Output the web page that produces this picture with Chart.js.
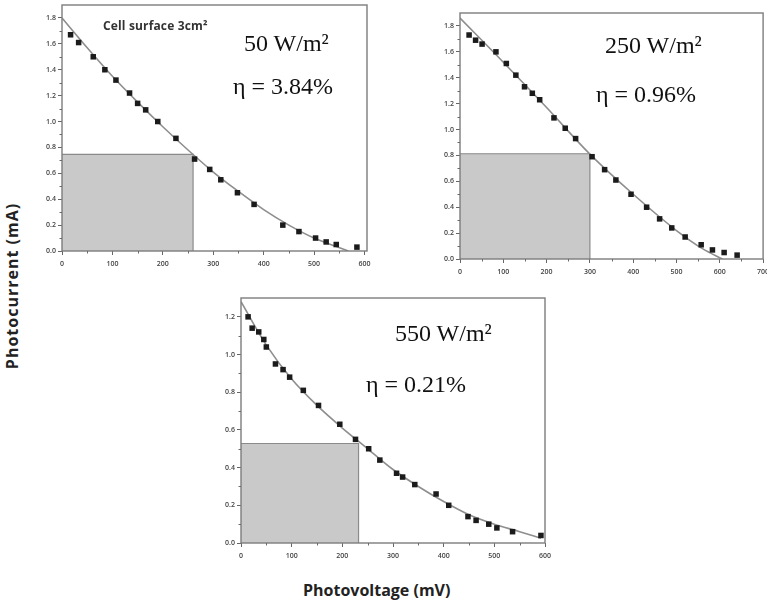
<!DOCTYPE html>
<html><head><meta charset="utf-8">
<script src="https://cdn.jsdelivr.net/npm/chart.js@4.4.1/dist/chart.umd.min.js"></script>
<style>
html,body{margin:0;padding:0;background:#fff}
body{width:771px;height:603px;position:relative;overflow:hidden;font-family:'Open Sans',sans-serif}
canvas{position:absolute;display:block}
.t{position:absolute;font-family:'Liberation Serif','Times New Roman',serif;font-size:24px;line-height:24px;color:#111;white-space:nowrap}
.cell{position:absolute;left:103px;top:19px;font-family:'Open Sans',sans-serif;font-weight:700;font-size:12px;line-height:14px;color:#333;white-space:nowrap;letter-spacing:0.15px}
.xl{position:absolute;left:303px;top:580px;font-family:'Open Sans',sans-serif;font-weight:700;font-size:16px;line-height:20px;color:#222;white-space:nowrap}
.yl{position:absolute;left:12px;top:286px;transform:translate(-50%,-50%) rotate(-90deg);font-family:'Open Sans',sans-serif;font-weight:700;font-size:16px;line-height:20px;color:#222;white-space:nowrap;letter-spacing:1px}
</style></head><body>
<canvas id="c1" width="344" height="273" style="left:27px;top:0px"></canvas>
<canvas id="c2" width="342" height="281" style="left:425px;top:0px"></canvas>
<canvas id="c3" width="345" height="275" style="left:206px;top:290px"></canvas>

<div class="cell">Cell surface 3cm²</div>
<div class="t" style="left:244px;top:31px">50 W/m²</div>
<div class="t" style="left:233px;top:74px">η = 3.84%</div>
<div class="t" style="left:605px;top:33px">250 W/m²</div>
<div class="t" style="left:596px;top:82px">η = 0.96%</div>
<div class="t" style="left:395px;top:321px">550 W/m²</div>
<div class="t" style="left:366px;top:372px">η = 0.21%</div>
<div class="xl">Photovoltage (mV)</div>
<div class="yl">Photocurrent (mA)</div>

<script>
// ---------- Panel 1 : 50 W/m2 ----------
const p1Voltage = [17,33,62,85,107,134,150,166,190,226,263,293,315,348,381,438,470,503,524,544,585];
const p1Current = [1.67,1.61,1.50,1.40,1.32,1.22,1.14,1.09,1.00,0.87,0.71,0.63,0.55,0.45,0.36,0.20,0.15,0.10,0.07,0.05,0.03];
const p1FitVoltage = [0,50,100,150,200,250,300,350,400,450,500,540,568];
const p1FitCurrent = [1.80,1.57,1.35,1.15,0.96,0.78,0.61,0.46,0.32,0.20,0.10,0.04,0.0];
const p1MppVoltage = 260;
const p1MppCurrent = 0.746;
const p1XTicks = [0,100,200,300,400,500,600];
const p1YTicks = [0,0.2,0.4,0.6,0.8,1.0,1.2,1.4,1.6,1.8];

// ---------- Panel 2 : 250 W/m2 ----------
const p2Voltage = [21,36,51,83,107,129,149,167,184,217,243,267,305,334,360,395,431,461,489,520,557,583,610,640];
const p2Current = [1.73,1.69,1.66,1.60,1.51,1.42,1.33,1.28,1.23,1.09,1.01,0.93,0.79,0.69,0.61,0.50,0.40,0.31,0.24,0.17,0.11,0.07,0.05,0.03];
const p2FitVoltage = [0,100,200,300,400,500,560,606];
const p2FitCurrent = [1.86,1.52,1.17,0.81,0.50,0.22,0.08,0.0];
const p2MppVoltage = 300;
const p2MppCurrent = 0.813;
const p2XTicks = [0,100,200,300,400,500,600,700];
const p2YTicks = [0,0.2,0.4,0.6,0.8,1.0,1.2,1.4,1.6,1.8];

// ---------- Panel 3 : 550 W/m2 ----------
const p3Voltage = [14,22,35,45,50,68,83,96,123,153,195,226,252,274,307,319,343,385,410,448,464,489,505,536,592];
const p3Current = [1.20,1.14,1.12,1.08,1.04,0.95,0.92,0.88,0.81,0.73,0.63,0.55,0.50,0.44,0.37,0.35,0.31,0.26,0.20,0.14,0.12,0.10,0.08,0.06,0.04];
const p3FitVoltage = [0,50,100,150,200,250,300,350,400,450,500,550,592];
const p3FitCurrent = [1.28,1.05,0.87,0.73,0.61,0.50,0.39,0.30,0.22,0.15,0.10,0.06,0.025];
const p3MppVoltage = 232;
const p3MppCurrent = 0.528;
const p3XTicks = [0,100,200,300,400,500,600];
const p3YTicks = [0,0.2,0.4,0.6,0.8,1.0,1.2];

const zip = (xs, ys) => xs.map((x, i) => ({x: x, y: ys[i]}));

const framePlugin = {
  id: 'frame',
  afterDatasetsDraw(chart) {
    const {ctx, chartArea: a, scales: {x, y}} = chart;
    ctx.save();
    ctx.strokeStyle = '#7d7d7d';
    ctx.lineWidth = 1.4;
    ctx.strokeRect(a.left, a.top, a.right - a.left, a.bottom - a.top);
    // minor ticks
    ctx.strokeStyle = '#6a6a6a';
    ctx.lineWidth = 1;
    ctx.beginPath();
    const xt = chart.options.plugins.frame.xTicks, yt = chart.options.plugins.frame.yTicks;
    for (let i = 0; i < xt.length - 1; i++) {
      const px = Math.round(x.getPixelForValue((xt[i] + xt[i+1]) / 2)) + 0.5;
      ctx.moveTo(px, a.bottom); ctx.lineTo(px, a.bottom + 2.5);
    }
    for (let i = 0; i < yt.length - 1; i++) {
      const py = Math.round(y.getPixelForValue((yt[i] + yt[i+1]) / 2)) + 0.5;
      ctx.moveTo(a.left, py); ctx.lineTo(a.left - 2.5, py);
    }
    ctx.stroke();
    ctx.restore();
  }
};

function makePanel(id, pts, fit, mppV, mppI, xMax, yMax, xTicks, yTicks, padTop, padRight, yW, xH) {
  const tickFont = {family: "'Open Sans', sans-serif", size: 7, weight: '600'};
  new Chart(document.getElementById(id), {
    type: 'scatter',
    data: {
      datasets: [
        { data: pts, showLine: false, pointStyle: 'rect', pointRadius: 3.9, pointHoverRadius: 3.9,
          backgroundColor: '#1b1b1b', borderColor: '#1b1b1b', borderWidth: 0 },
        { data: fit, showLine: true, pointRadius: 0, borderColor: '#8e8e8e', borderWidth: 1.6,
          cubicInterpolationMode: 'monotone', fill: false },
        { data: [{x: 0, y: mppI}, {x: mppV, y: mppI}, {x: mppV, y: 0}], showLine: true, pointRadius: 0,
          borderColor: '#8a8a8a', borderWidth: 1.2, backgroundColor: '#c9c9c9', fill: 'origin', tension: 0 }
      ]
    },
    options: {
      responsive: false, animation: false, devicePixelRatio: 1,
      layout: {padding: {top: padTop, right: padRight, left: 0, bottom: 0}},
      plugins: {legend: {display: false}, tooltip: {enabled: false}, frame: {xTicks: xTicks, yTicks: yTicks}},
      scales: {
        x: {
          type: 'linear', min: 0, max: xMax,
          afterBuildTicks: s => { s.ticks = xTicks.map(v => ({value: v})); },
          afterFit: s => { s.height = xH; s.paddingLeft = 0; s.paddingRight = 0; },
          ticks: {font: tickFont, color: '#444', padding: 5, maxRotation: 0, autoSkip: false, callback: v => String(v)},
          grid: {display: true, drawOnChartArea: false, drawTicks: true, tickLength: 4, tickColor: '#666', tickWidth: 1},
          border: {display: false}
        },
        y: {
          type: 'linear', min: 0, max: yMax,
          afterBuildTicks: s => { s.ticks = yTicks.map(v => ({value: v})); },
          afterFit: s => { s.width = yW; s.paddingTop = 0; s.paddingBottom = 0; },
          ticks: {font: tickFont, color: '#444', padding: 2, autoSkip: false, callback: v => Number(v).toFixed(1)},
          grid: {display: true, drawOnChartArea: false, drawTicks: true, tickLength: 4, tickColor: '#666', tickWidth: 1},
          border: {display: false}
        }
      }
    },
    plugins: [framePlugin]
  });
}

makePanel('c1', zip(p1Voltage, p1Current), zip(p1FitVoltage, p1FitCurrent), p1MppVoltage, p1MppCurrent,
  605, 1.9, p1XTicks, p1YTicks, 5, 4, 35, 22);
makePanel('c2', zip(p2Voltage, p2Current), zip(p2FitVoltage, p2FitCurrent), p2MppVoltage, p2MppCurrent,
  700, 1.9, p2XTicks, p2YTicks, 13, 3, 35, 22);
makePanel('c3', zip(p3Voltage, p3Current), zip(p3FitVoltage, p3FitCurrent), p3MppVoltage, p3MppCurrent,
  600, 1.3, p3XTicks, p3YTicks, 8, 6, 35, 22);
</script>
</body></html>
